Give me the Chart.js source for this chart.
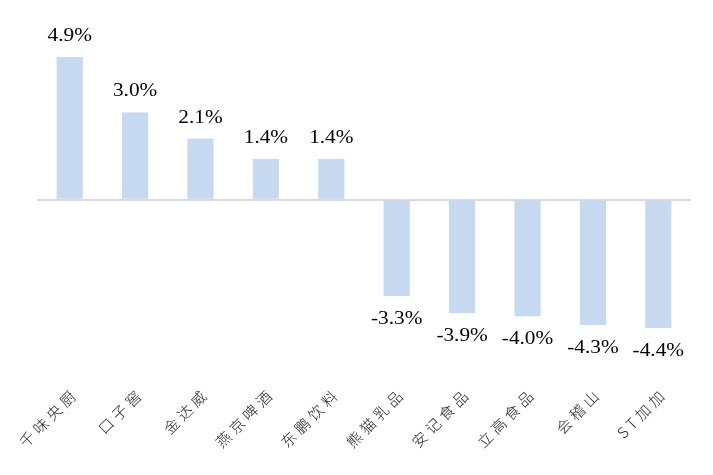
<!DOCTYPE html>
<html>
<head>
<meta charset="utf-8">
<script src="https://cdn.jsdelivr.net/npm/chart.js@4"></script>
<style>
html,body{margin:0;padding:0;background:#fff;}
#wrap{width:713px;height:475px;position:relative;}
</style>
</head>
<body>
<div id="wrap"><canvas id="c"></canvas></div>
<script>
const categories = ["千味央厨","口子窖","金达威","燕京啤酒","东鹏饮料","熊猫乳品","安记食品","立高食品","会稽山","ST加加"];
const values = [4.9, 3.0, 2.1, 1.4, 1.4, -3.3, -3.9, -4.0, -4.3, -4.4];
const yMin = -6, yMax = 6;

const spacingPlugin = {
  id: 'spacing',
  beforeUpdate(chart) { chart.ctx.letterSpacing = '4px'; },
  beforeLayout(chart) { chart.ctx.letterSpacing = '4px'; },
  beforeDraw(chart) { chart.ctx.letterSpacing = '4px'; }
};

const labelPlugin = {
  id: 'valueLabels',
  afterDatasetsDraw(chart) {
    const ctx = chart.ctx;
    const meta = chart.getDatasetMeta(0);
    ctx.save();
    ctx.letterSpacing = '0px';
    ctx.font = '19px "Liberation Serif", "Times New Roman", serif';
    ctx.fillStyle = '#000';
    ctx.textAlign = 'center';
    ctx.textBaseline = 'middle';
    meta.data.forEach((bar, i) => {
      const v = values[i];
      const txt = v.toFixed(1) + '%';
      const y = v >= 0 ? bar.y - 21 : bar.y + 23;
      ctx.save();
      ctx.translate(bar.x, y);
      ctx.scale(1.12, 1);
      ctx.fillText(txt, 0, 0);
      ctx.restore();
    });
    ctx.restore();
  }
};

new Chart(document.getElementById('c'), {
  type: 'bar',
  data: {
    labels: categories,
    datasets: [{
      data: values,
      backgroundColor: '#C6D9F0',
      borderWidth: 0,
      categoryPercentage: 1.0,
      barPercentage: 0.4
    }]
  },
  options: {
    responsive: true,
    maintainAspectRatio: false,
    animation: false,
    layout: { padding: { left: 37, right: 22, top: 25, bottom: 14 } },
    plugins: { legend: { display: false }, tooltip: { enabled: false } },
    scales: {
      x: {
        grid: { display: false, drawTicks: false },
        border: { display: false },
        ticks: {
          color: '#222',
          font: { family: '"Noto Sans CJK SC", sans-serif', size: 15, weight: 300 },
          maxRotation: 45, minRotation: 45,
          labelOffset: 6,
          padding: 10
        }
      },
      y: {
        display: true,
        min: yMin, max: yMax,
        ticks: { display: false, stepSize: 6 },
        border: { display: false },
        grid: {
          drawTicks: false,
          color: (c) => c.tick && c.tick.value === 0 ? '#D9D9D9' : 'rgba(0,0,0,0)',
          lineWidth: (c) => c.tick && c.tick.value === 0 ? 2 : 0
        }
      }
    }
  },
  plugins: [spacingPlugin, labelPlugin]
});
</script>
</body>
</html>
